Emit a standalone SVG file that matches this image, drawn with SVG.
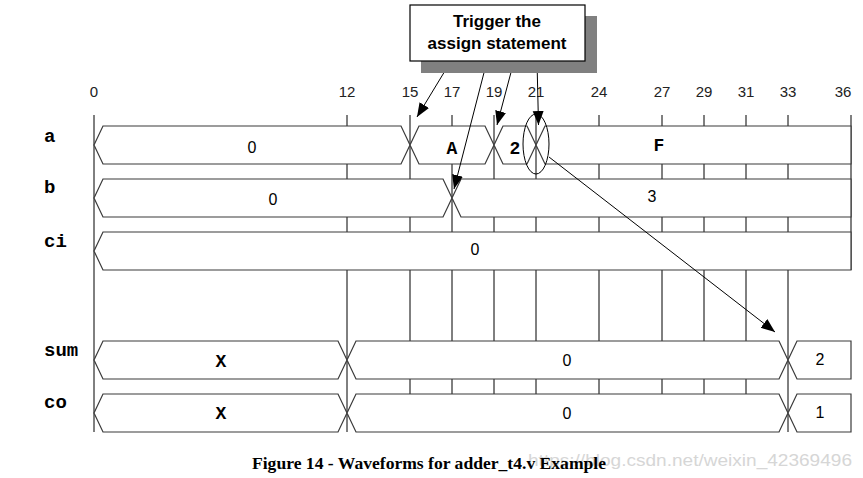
<svg xmlns="http://www.w3.org/2000/svg" width="863" height="478" viewBox="0 0 863 478">
<style>
.grid{stroke:#000;stroke-width:1;fill:none}
.bus{fill:#fff;stroke:#3a3a3a;stroke-width:1.2}
.tick{font-family:"Liberation Sans",Arial,sans-serif;font-size:15px;fill:#222;text-anchor:middle}
.sig{font-family:"Liberation Mono","Courier New",monospace;font-weight:bold;font-size:19px;fill:#000}
.vs{font-family:"Liberation Sans",Arial,sans-serif;font-size:16px;fill:#000;text-anchor:middle}
.vm{font-family:"Liberation Mono","Courier New",monospace;font-weight:bold;font-size:18px;fill:#000;text-anchor:middle}
.conn{stroke:#000;stroke-width:1;fill:none}
.call{font-family:"Liberation Sans",Arial,sans-serif;font-weight:bold;font-size:17px;fill:#000;text-anchor:middle}
</style>
<defs>
<marker id="ah" markerUnits="userSpaceOnUse" markerWidth="15" markerHeight="12" refX="14" refY="5.5" orient="auto">
<path d="M0,0 L14,5.5 L0,11 Z" fill="#000"/>
</marker>
</defs>
<rect width="863" height="478" fill="#fff"/>
<g id="ticks">
<text class="tick" x="94" y="97">0</text>
<text class="tick" x="347" y="97">12</text>
<text class="tick" x="410" y="97">15</text>
<text class="tick" x="452" y="97">17</text>
<text class="tick" x="494" y="97">19</text>
<text class="tick" x="536" y="97">21</text>
<text class="tick" x="599" y="97">24</text>
<text class="tick" x="662" y="97">27</text>
<text class="tick" x="704" y="97">29</text>
<text class="tick" x="746" y="97">31</text>
<text class="tick" x="788" y="97">33</text>
<text class="tick" x="843" y="97">36</text>
</g>
<g id="grid" class="grid">
<line x1="94" y1="115" x2="94" y2="432"/>
<line x1="347" y1="115" x2="347" y2="432"/>
<line x1="410" y1="115" x2="410" y2="432"/>
<line x1="452" y1="115" x2="452" y2="432"/>
<line x1="494" y1="115" x2="494" y2="432"/>
<line x1="536" y1="115" x2="536" y2="432"/>
<line x1="599" y1="115" x2="599" y2="432"/>
<line x1="662" y1="115" x2="662" y2="432"/>
<line x1="704" y1="115" x2="704" y2="432"/>
<line x1="746" y1="115" x2="746" y2="432"/>
<line x1="788" y1="115" x2="788" y2="432"/>
<line x1="851" y1="115" x2="851" y2="270"/>
</g>
<g id="sig-a">
<text class="sig" x="44" y="142">a</text>
<path class="bus" d="M94,145 L103,126 L401,126 L410,145 L401,164 L103,164 Z"/>
<path class="bus" d="M410,145 L419,126 L485,126 L494,145 L485,164 L419,164 Z"/>
<path class="bus" d="M494,145 L503,126 L527,126 L536,145 L527,164 L503,164 Z"/>
<path class="bus" d="M536,145 L545,126 L851,126 L851,164 L545,164 Z"/>
<text class="vs" x="252" y="153">0</text>
<text class="vm" x="452" y="154">A</text>
<text class="vm" x="515" y="154">2</text>
<text class="vm" x="659" y="151">F</text>
</g>
<g id="sig-b">
<text class="sig" x="44" y="193">b</text>
<path class="bus" d="M94,198 L103,179 L443,179 L452,198 L443,217 L103,217 Z"/>
<path class="bus" d="M452,198 L461,179 L851,179 L851,217 L461,217 Z"/>
<text class="vs" x="273" y="205">0</text>
<text class="vs" x="652" y="202">3</text>
</g>
<g id="sig-ci">
<text class="sig" x="44" y="247">ci</text>
<path class="bus" d="M94,251 L103,232 L851,232 L851,270 L103,270 Z"/>
<text class="vs" x="475" y="255">0</text>
</g>
<g id="sig-sum">
<text class="sig" x="44" y="356">sum</text>
<path class="bus" d="M94,360 L103,341 L338,341 L347,360 L338,379 L103,379 Z"/>
<path class="bus" d="M347,360 L356,341 L779,341 L788,360 L779,379 L356,379 Z"/>
<path class="bus" d="M788,360 L797,341 L851,341 L851,379 L797,379 Z"/>
<text class="vm" x="221" y="367">X</text>
<text class="vs" x="567" y="366">0</text>
<text class="vs" x="820" y="365">2</text>
</g>
<g id="sig-co">
<text class="sig" x="44" y="408">co</text>
<path class="bus" d="M94,413 L103,394 L338,394 L347,413 L338,432 L103,432 Z"/>
<path class="bus" d="M347,413 L356,394 L779,394 L788,413 L779,432 L356,432 Z"/>
<path class="bus" d="M788,413 L797,394 L851,394 L851,432 L797,432 Z"/>
<text class="vm" x="221" y="419">X</text>
<text class="vs" x="567" y="419">0</text>
<text class="vs" x="820" y="418">1</text>
</g>
<g id="connectors">
<ellipse class="conn" cx="536" cy="144" rx="13" ry="30"/>
<line class="conn" x1="451" y1="61" x2="417" y2="117" marker-end="url(#ah)"/>
<line class="conn" x1="487" y1="61" x2="454" y2="189" marker-end="url(#ah)"/>
<line class="conn" x1="514" y1="61" x2="497" y2="125" marker-end="url(#ah)"/>
<line class="conn" x1="537" y1="61" x2="538.5" y2="125" marker-end="url(#ah)"/>
<line class="conn" x1="549" y1="157" x2="775" y2="332" marker-end="url(#ah)"/>
</g>
<g id="callout">
<rect x="421" y="16" width="176" height="57" fill="#808080"/>
<rect x="410" y="5" width="175" height="56" fill="#fff" stroke="#000" stroke-width="1.2"/>
<text class="call" x="497" y="27">Trigger the</text>
<text class="call" x="497" y="49">assign statement</text>
</g>
<g id="caption">
<text x="528" y="466" font-family="'Liberation Sans',Arial,sans-serif" font-size="16" fill="#d6d6d6" textLength="324" lengthAdjust="spacingAndGlyphs">https://blog.csdn.net/weixin_42369496</text>
<text x="252" y="469" font-family="'Liberation Serif','Times New Roman',serif" font-weight="bold" font-size="16" fill="#000" textLength="354" lengthAdjust="spacingAndGlyphs">Figure 14 - Waveforms for adder_t4.v Example</text>
</g>
</svg>
